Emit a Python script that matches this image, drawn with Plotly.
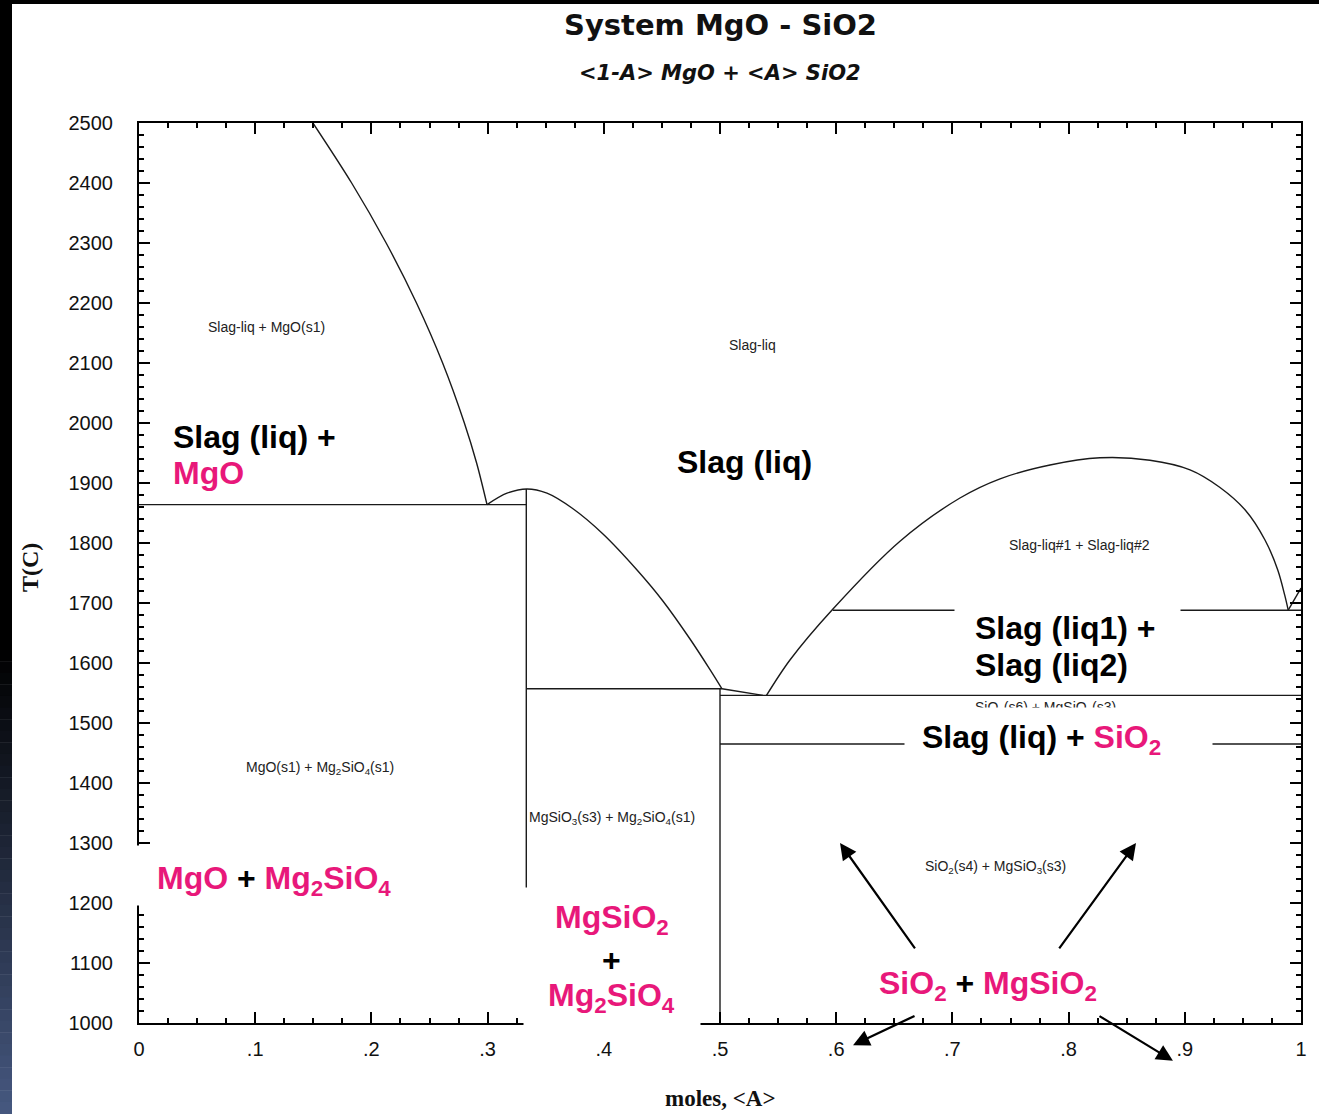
import plotly.graph_objects as go

# ---- Phase boundaries, MgO - SiO2 (x = mole fraction SiO2, T in deg C) ----
periclase_liq_x = [0.1497, 0.1830, 0.2127, 0.2388, 0.2613, 0.2800, 0.2906, 0.2995]
periclase_liq_T = [2500, 2400, 2300, 2200, 2100, 2000, 1933, 1864]

eutectic1_x = [0.0, 0.3333]
eutectic1_T = [1864, 1864]

forsterite_liq_x = [0.2995, 0.3167, 0.3339, 0.3511, 0.3735, 0.3993, 0.4286, 0.451, 0.4742, 0.4914, 0.5017]
forsterite_liq_T = [1864, 1883, 1890, 1883, 1857, 1815, 1755, 1703, 1640, 1589, 1557]

peritectic_x = [0.3333, 0.5017]
peritectic_T = [1557, 1557]

enstatite_liq_x = [0.5017, 0.537]
enstatite_liq_T = [1557, 1546]

eutectic2_x = [0.5, 1.0]
eutectic2_T = [1546, 1546]

silica_dome_x = [0.540, 0.5602, 0.5972, 0.6549, 0.7065, 0.741,
                 0.784, 0.827, 0.870, 0.9045, 0.930, 0.952, 0.969, 0.980, 0.986, 0.989]
silica_dome_T = [1546, 1605, 1690, 1803, 1875, 1907,
                 1930, 1942, 1938, 1922, 1893, 1855, 1805, 1755, 1713, 1688]

cristobalite_liq_x = [0.989, 1.0]
cristobalite_liq_T = [1688, 1725]

monotectic_x = [0.597, 1.0]
monotectic_T = [1688, 1688]

silica_transition_x = [0.5, 1.0]
silica_transition_T = [1465, 1465]

forsterite_comp_x = [0.3333, 0.3333]
forsterite_comp_T = [1000, 1890]

enstatite_comp_x = [0.5, 0.5]
enstatite_comp_T = [1000, 1557]

x_tick_vals = [0, 0.1, 0.2, 0.3, 0.4, 0.5, 0.6, 0.7, 0.8, 0.9, 1.0]
x_tick_text = ["0", ".1", ".2", ".3", ".4", ".5", ".6", ".7", ".8", ".9", "1"]

PINK = "#E8187A"
INK = "#111111"
SANS = "Liberation Sans"
SERIF = "Liberation Serif"

# (x, T, smooth curve?)
boundaries = [
    (periclase_liq_x, periclase_liq_T, True),
    (eutectic1_x, eutectic1_T, False),
    (forsterite_liq_x, forsterite_liq_T, True),
    (peritectic_x, peritectic_T, False),
    (enstatite_liq_x, enstatite_liq_T, False),
    (eutectic2_x, eutectic2_T, False),
    (silica_dome_x, silica_dome_T, True),
    (cristobalite_liq_x, cristobalite_liq_T, False),
    (monotectic_x, monotectic_T, False),
    (silica_transition_x, silica_transition_T, False),
    (forsterite_comp_x, forsterite_comp_T, False),
    (enstatite_comp_x, enstatite_comp_T, False),
]

fig = go.Figure()
for bx, bT, smooth in boundaries:
    line = dict(color="#1a1a1a", width=1.4)
    if smooth:
        line.update(shape="spline", smoothing=0.9)
    fig.add_trace(go.Scatter(x=bx, y=bT, mode="lines", line=line,
                             hoverinfo="skip", showlegend=False))

annotations = []

# small phase-field labels
def small(x, T, text):
    annotations.append(dict(x=x, y=T, xref="x", yref="y", text=text, showarrow=False,
                            font=dict(family=SANS, size=14, color="#222222")))

small(0.110, 2160, "Slag-liq + MgO(s1)")
small(0.528, 2130, "Slag-liq")
small(0.809, 1797, "Slag-liq#1 + Slag-liq#2")
small(0.1558, 1425, "MgO(s1) + Mg<sub>2</sub>SiO<sub>4</sub>(s1)")
small(0.407, 1342, "MgSiO<sub>3</sub>(s3) + Mg<sub>2</sub>SiO<sub>4</sub>(s1)")
small(0.7375, 1260, "SiO<sub>2</sub>(s4) + MgSiO<sub>3</sub>(s3)")
small(0.7797, 1525, "SiO<sub>2</sub>(s6) + MgSiO<sub>3</sub>(s3)")

# white backing boxes behind the large labels
def box(x, T, w, h):
    annotations.append(dict(x=x, y=T, xref="x", yref="y", text=" ", showarrow=False,
                            width=w, height=h, bgcolor="white", borderpad=0,
                            font=dict(size=4)))

box(0.1084, 1246, 270, 59)
box(0.407, 1105, 176, 144)
box(0.799, 1632, 225, 92)
box(0.7913, 1464, 307, 73)

# large labels
def big(x, T, text, xanchor="left"):
    annotations.append(dict(x=x, y=T, xref="x", yref="y", text=text, showarrow=False,
                            xanchor=xanchor,
                            font=dict(family=SANS, size=32, color="black", weight="bold")))

def pink(s):
    return f"<span style='color:{PINK}'>{s}</span>"

big(0.0278, 1977, "Slag (liq) +")
big(0.0278, 1917, pink("MgO"))
big(0.5215, 1935, "Slag (liq)", "center")
big(0.7180, 1658, "Slag (liq1) +")
big(0.7180, 1597, "Slag (liq2)")
big(0.6725, 1472, "Slag (liq) + " + pink("SiO<sub>2</sub>"))
big(0.0135, 1238, pink("MgO") + " + " + pink("Mg<sub>2</sub>SiO<sub>4</sub>"))
big(0.407, 1172, pink("MgSiO<sub>2</sub>"), "center")
big(0.407, 1105, "+", "center")
big(0.407, 1043, pink("Mg<sub>2</sub>SiO<sub>4</sub>"), "center")
big(0.6355, 1063, pink("SiO<sub>2</sub>") + " + " + pink("MgSiO<sub>2</sub>"))

# arrows from the SiO2 + MgSiO2 label
arrows = [
    ((0.6033, 1300), (0.6687, 1122)),
    ((0.858, 1300), (0.791, 1122)),
    ((0.6145, 963), (0.6687, 1013)),
    ((0.8898, 937), (0.8253, 1013)),
]
for (hx, hy), (tx, ty) in arrows:
    annotations.append(dict(x=hx, y=hy, ax=tx, ay=ty, xref="x", yref="y",
                            axref="x", ayref="y", text="", showarrow=True,
                            arrowhead=2, arrowsize=1.5, arrowwidth=2.2,
                            arrowcolor="black", standoff=0, startstandoff=0))

# titles
annotations.append(dict(x=0.5, y=1.1089, xref="paper", yref="paper", showarrow=False,
                        xanchor="center", yanchor="middle",
                        text="System MgO - SiO2",
                        font=dict(family="DejaVu Sans", size=29, color=INK, weight="bold")))
annotations.append(dict(x=0.5, y=1.0556, xref="paper", yref="paper", showarrow=False,
                        xanchor="center", yanchor="middle",
                        text="&lt;1-A&gt; MgO + &lt;A&gt; SiO2",
                        font=dict(family="DejaVu Sans", size=21, color=INK,
                                  weight="bold", style="italic")))
annotations.append(dict(x=0.5, y=-0.0844, xref="paper", yref="paper", showarrow=False,
                        xanchor="center", yanchor="middle",
                        text="moles, &lt;A&gt;",
                        font=dict(family=SERIF, size=23, color=INK, weight="bold")))
annotations.append(dict(x=-0.0938, y=0.5056, xref="paper", yref="paper", showarrow=False,
                        xanchor="center", yanchor="middle",
                        text="T(C)", textangle=-90,
                        font=dict(family=SERIF, size=24, color=INK, weight="bold")))

# dark border strips on the page edge
PW, PH = 1162.0, 900.0
def px_x(p):
    return (p - 139) / PW
def px_y(p):
    return (1023 - p) / PH

shapes = [
    dict(type="rect", xref="paper", yref="paper", x0=px_x(0), x1=px_x(1319),
         y0=px_y(4), y1=px_y(0), fillcolor="black", line=dict(width=0), layer="above"),
    dict(type="rect", xref="paper", yref="paper", x0=px_x(0), x1=px_x(12),
         y0=px_y(650), y1=px_y(0), fillcolor="black", line=dict(width=0), layer="above"),
]
n_bands = 40
top_c = (0, 0, 0)
bot_c = (70, 88, 128)
for i in range(n_bands):
    y_a = 650 + (1114 - 650) * i / n_bands
    y_b = 650 + (1114 - 650) * (i + 1) / n_bands
    f = (i + 0.5) / n_bands
    c = tuple(int(round(top_c[k] + (bot_c[k] - top_c[k]) * f)) for k in range(3))
    shapes.append(dict(type="rect", xref="paper", yref="paper", x0=px_x(0), x1=px_x(12),
                       y0=px_y(y_b), y1=px_y(y_a) + 0.0005, fillcolor=f"rgb{c}",
                       line=dict(width=0), layer="above"))

axis_common = dict(showline=True, linecolor="black", linewidth=2, mirror="ticks",
                   ticks="inside", ticklen=11, tickwidth=1.5, tickcolor="black",
                   showgrid=False, zeroline=False,
                   tickfont=dict(family=SANS, size=20, color=INK))

fig.update_layout(
    width=1319, height=1114,
    margin=dict(l=139, r=18, t=123, b=91),
    paper_bgcolor="white", plot_bgcolor="white",
    showlegend=False,
    xaxis=dict(range=[0, 1], tickmode="array", tickvals=x_tick_vals, ticktext=x_tick_text,
               ticklabelstandoff=7,
               minor=dict(tickmode="linear", tick0=0, dtick=0.025, ticks="inside",
                          ticklen=5, tickwidth=1.5, tickcolor="black", showgrid=False),
               **axis_common),
    yaxis=dict(range=[1000, 2500], tickmode="linear", tick0=1000, dtick=100,
               ticklabelstandoff=20,
               minor=dict(tickmode="linear", tick0=1000, dtick=20, ticks="inside",
                          ticklen=5, tickwidth=1.5, tickcolor="black", showgrid=False),
               **axis_common),
    annotations=annotations,
    shapes=shapes,
)

fig.write_html("out.html")
